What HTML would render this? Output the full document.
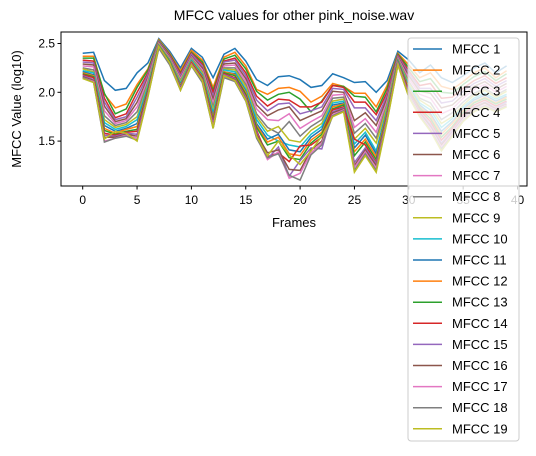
<!DOCTYPE html>
<html><head><meta charset="utf-8"><style>
body{margin:0;background:#fff;}
svg text{font-family:"Liberation Sans","DejaVu Sans",sans-serif;fill:#000;}
</style></head><body>
<svg id="chart" width="536" height="451" xmlns="http://www.w3.org/2000/svg">
<rect width="536" height="451" fill="#fff"/>
<text x="294" y="20" font-size="14" text-anchor="middle">MFCC values for other pink_noise.wav</text>
<text x="294" y="227" font-size="13" text-anchor="middle">Frames</text>
<text x="21" y="109" font-size="13" text-anchor="middle" transform="rotate(-90 21 109)">MFCC Value (log10)</text>
<g id="series"></g>
<rect x="61" y="32" width="466" height="154" fill="none" stroke="#000" stroke-width="1"/>
<g id="ticks"></g>
<g id="legend"></g>
</svg>
<script>
const xTicks=[0,5,10,15,20,25,30,35,40];
const yTicks=[1.5,2.0,2.5];
const seriesNames=["MFCC 1","MFCC 2","MFCC 3","MFCC 4","MFCC 5","MFCC 6","MFCC 7","MFCC 8","MFCC 9","MFCC 10","MFCC 11","MFCC 12","MFCC 13","MFCC 14","MFCC 15","MFCC 16","MFCC 17","MFCC 18","MFCC 19"];
const s1=[2.40,2.41,2.12,2.02,2.04,2.20,2.30,2.55,2.42,2.25,2.45,2.36,2.15,2.39,2.45,2.32,2.13,2.07,2.16,2.17,2.13,2.05,2.07,2.19,2.15,2.10,2.11,2.00,2.12,2.42,2.33,2.20,2.28,2.15,2.10,2.17,2.25,2.30,2.20,2.27];
const s2=[2.37,2.37,1.98,1.84,1.88,2.08,2.24,2.54,2.40,2.22,2.43,2.33,2.05,2.36,2.41,2.27,2.03,1.98,2.04,2.05,2.01,1.90,1.96,2.09,2.06,1.99,1.99,1.85,2.07,2.40,2.28,2.15,2.20,2.06,2.03,2.11,2.20,2.25,2.15,2.22];
const s3=[2.35,2.35,1.99,1.78,1.83,2.05,2.23,2.53,2.39,2.20,2.41,2.31,2.02,2.34,2.38,2.24,2.01,1.92,1.98,2.00,1.93,1.80,1.91,2.07,2.06,1.96,1.95,1.80,2.04,2.39,2.25,2.11,2.14,2.00,1.99,2.08,2.16,2.21,2.12,2.19];
const s4=[2.33,2.32,1.94,1.74,1.78,2.00,2.20,2.52,2.38,2.19,2.40,2.29,2.00,2.32,2.35,2.20,1.96,1.86,1.93,1.92,1.85,1.85,1.90,2.07,2.05,1.90,1.90,1.77,2.00,2.38,2.22,2.07,2.09,1.94,1.95,2.04,2.12,2.17,2.09,2.15];
const s5=[2.31,2.30,1.90,1.72,1.75,1.95,2.18,2.52,2.37,2.17,2.39,2.27,1.96,2.31,2.33,2.17,1.92,1.81,1.88,1.89,1.78,1.81,1.85,2.04,2.03,1.84,1.84,1.71,1.97,2.37,2.20,2.04,2.04,1.89,1.91,2.01,2.09,2.14,2.06,2.12];
const s6=[2.29,2.28,1.86,1.70,1.73,1.90,2.15,2.51,2.36,2.15,2.37,2.25,1.93,2.29,2.30,2.14,1.87,1.76,1.82,1.85,1.71,1.76,1.81,2.01,2.00,1.71,1.79,1.66,1.94,2.36,2.17,2.01,1.99,1.84,1.87,1.97,2.06,2.11,2.03,2.09];
const s7=[2.27,2.26,1.81,1.68,1.71,1.85,2.13,2.50,2.35,2.14,2.36,2.23,1.89,2.27,2.28,2.11,1.83,1.72,1.71,1.78,1.63,1.70,1.76,1.97,1.98,1.64,1.73,1.59,1.91,2.35,2.14,1.98,1.94,1.78,1.83,1.94,2.03,2.08,2.00,2.06];
const s8=[2.25,2.23,1.76,1.66,1.69,1.80,2.10,2.49,2.34,2.12,2.35,2.21,1.85,2.25,2.25,2.08,1.78,1.64,1.58,1.70,1.55,1.65,1.72,1.94,1.95,1.58,1.68,1.53,1.88,2.34,2.11,1.94,1.89,1.72,1.79,1.90,1.99,2.04,1.97,2.03];
const s9=[2.24,2.21,1.72,1.64,1.67,1.75,2.08,2.49,2.33,2.11,2.34,2.20,1.82,2.24,2.23,2.06,1.75,1.60,1.65,1.51,1.49,1.61,1.68,1.91,1.93,1.52,1.63,1.48,1.86,2.33,2.09,1.92,1.85,1.68,1.75,1.87,1.97,2.02,1.95,2.01];
const s10=[2.22,2.20,1.69,1.62,1.65,1.72,2.06,2.48,2.32,2.09,2.33,2.18,1.79,2.23,2.21,2.03,1.72,1.56,1.50,1.46,1.44,1.57,1.65,1.89,1.91,1.47,1.59,1.40,1.83,2.32,2.07,1.89,1.82,1.64,1.73,1.85,1.94,1.99,1.93,1.98];
const s11=[2.21,2.18,1.66,1.60,1.63,1.68,2.04,2.48,2.32,2.08,2.32,2.17,1.76,2.21,2.19,2.01,1.68,1.52,1.57,1.41,1.39,1.54,1.62,1.87,1.89,1.43,1.56,1.37,1.81,2.32,2.05,1.87,1.78,1.60,1.70,1.83,1.92,1.97,1.91,1.96];
const s12=[2.20,2.17,1.63,1.58,1.62,1.65,2.03,2.47,2.31,2.07,2.31,2.16,1.74,2.21,2.18,2.00,1.66,1.49,1.54,1.37,1.35,1.51,1.59,1.85,1.88,1.39,1.52,1.34,1.80,2.31,2.04,1.85,1.76,1.57,1.68,1.81,1.90,1.95,1.89,1.95];
const s13=[2.19,2.16,1.61,1.57,1.60,1.62,2.02,2.47,2.31,2.06,2.30,2.15,1.72,2.20,2.17,1.98,1.64,1.46,1.50,1.33,1.31,1.48,1.57,1.83,1.87,1.35,1.49,1.31,1.78,2.31,2.02,1.84,1.73,1.54,1.65,1.79,1.89,1.94,1.88,1.93];
const s14=[2.18,2.15,1.58,1.56,1.59,1.60,2.00,2.47,2.30,2.05,2.30,2.14,1.70,2.19,2.15,1.96,1.61,1.34,1.38,1.29,1.45,1.46,1.54,1.82,1.85,1.52,1.46,1.28,1.76,2.30,2.01,1.82,1.70,1.51,1.63,1.77,1.87,1.92,1.86,1.91];
const s15=[2.17,2.13,1.56,1.55,1.58,1.57,1.99,2.46,2.30,2.05,2.29,2.13,1.68,2.18,2.14,1.95,1.59,1.32,1.44,1.14,1.30,1.43,1.42,1.80,1.84,1.28,1.43,1.27,1.75,2.30,1.99,1.80,1.67,1.48,1.61,1.75,1.85,1.90,1.84,1.90];
const s16=[2.16,2.12,1.54,1.54,1.57,1.55,1.98,2.46,2.29,2.04,2.28,2.12,1.66,2.17,2.13,1.93,1.57,1.38,1.41,1.21,1.20,1.41,1.50,1.79,1.83,1.25,1.41,1.25,1.73,2.29,1.98,1.79,1.65,1.46,1.59,1.74,1.84,1.89,1.83,1.88];
const s17=[2.15,2.11,1.50,1.53,1.56,1.53,1.97,2.46,2.29,2.03,2.28,2.11,1.65,2.16,2.12,1.92,1.55,1.31,1.39,1.12,1.17,1.38,1.48,1.77,1.82,1.23,1.39,1.22,1.72,2.29,1.97,1.77,1.63,1.44,1.58,1.72,1.82,1.87,1.82,1.87];
const s18=[2.15,2.10,1.49,1.53,1.55,1.51,1.96,2.45,2.28,2.02,2.27,2.10,1.63,2.15,2.11,1.91,1.53,1.33,1.37,1.15,1.10,1.36,1.46,1.76,1.81,1.20,1.37,1.20,1.71,2.28,1.96,1.76,1.61,1.42,1.56,1.71,1.81,1.86,1.81,1.86];
const s19=[2.14,2.10,1.52,1.60,1.58,1.50,1.95,2.47,2.30,2.02,2.28,2.12,1.63,2.17,2.12,1.92,1.55,1.35,1.50,1.36,1.26,1.40,1.55,1.75,1.80,1.18,1.35,1.18,1.70,2.28,1.95,1.75,1.60,1.40,1.55,1.70,1.80,1.85,1.80,1.85];
const allSeries=[s1,s2,s3,s4,s5,s6,s7,s8,s9,s10,s11,s12,s13,s14,s15,s16,s17,s18,s19];
const colors=["#1f77b4","#ff7f0e","#2ca02c","#d62728","#9467bd","#8c564b","#e377c2","#7f7f7f","#bcbd22","#17becf"];
const NS="http://www.w3.org/2000/svg";
function xs(v){return 82.7+v*10.87;}
function ys(v){return 92.3-(v-2)*97.6;}
const g=document.getElementById('series');
allSeries.forEach((arr,i)=>{
  const p=document.createElementNS(NS,'polyline');
  p.setAttribute('points',arr.map((v,j)=>xs(j).toFixed(1)+','+ys(v).toFixed(1)).join(' '));
  p.setAttribute('fill','none');p.setAttribute('stroke',colors[i%10]);p.setAttribute('stroke-width','1.5');
  
  
  g.appendChild(p);
});
const t=document.getElementById('ticks');
xTicks.forEach(v=>{
  const l=document.createElementNS(NS,'line');
  l.setAttribute('x1',xs(v));l.setAttribute('x2',xs(v));l.setAttribute('y1',186);l.setAttribute('y2',189.5);l.setAttribute('stroke','#000');
  
  
  t.appendChild(l);
  const tx=document.createElementNS(NS,'text');
  tx.setAttribute('x',xs(v));tx.setAttribute('y',204);tx.setAttribute('font-size','12');tx.setAttribute('text-anchor','middle');
  tx.textContent=v;
  
  
  t.appendChild(tx);
});
yTicks.forEach(v=>{
  const l=document.createElementNS(NS,'line');
  l.setAttribute('x1',57.5);l.setAttribute('x2',61);l.setAttribute('y1',ys(v));l.setAttribute('y2',ys(v));l.setAttribute('stroke','#000');
  
  
  t.appendChild(l);
  const tx=document.createElementNS(NS,'text');
  tx.setAttribute('x',55);tx.setAttribute('y',ys(v)+4);tx.setAttribute('font-size','12');tx.setAttribute('text-anchor','end');
  tx.textContent=v.toFixed(1);
  
  
  t.appendChild(tx);
});
const lg=document.getElementById('legend');
const box=document.createElementNS(NS,'rect');
box.setAttribute('x',408);box.setAttribute('y',38);box.setAttribute('width',111);box.setAttribute('height',403);box.setAttribute('rx',3);
box.setAttribute('fill','rgba(255,255,255,0.8)');box.setAttribute('stroke','#ccc');


lg.appendChild(box);
seriesNames.forEach((n,i)=>{
  const y=49+i*21.1;
  const l=document.createElementNS(NS,'line');
  l.setAttribute('x1',413);l.setAttribute('x2',442);l.setAttribute('y1',y);l.setAttribute('y2',y);
  l.setAttribute('stroke',colors[i%10]);l.setAttribute('stroke-width','1.5');
  
  
  lg.appendChild(l);
  const tx=document.createElementNS(NS,'text');
  tx.setAttribute('x',452);tx.setAttribute('y',y+4.5);tx.setAttribute('font-size','13');
  tx.textContent=n;
  
  
  lg.appendChild(tx);
});
</script>
</body></html>
